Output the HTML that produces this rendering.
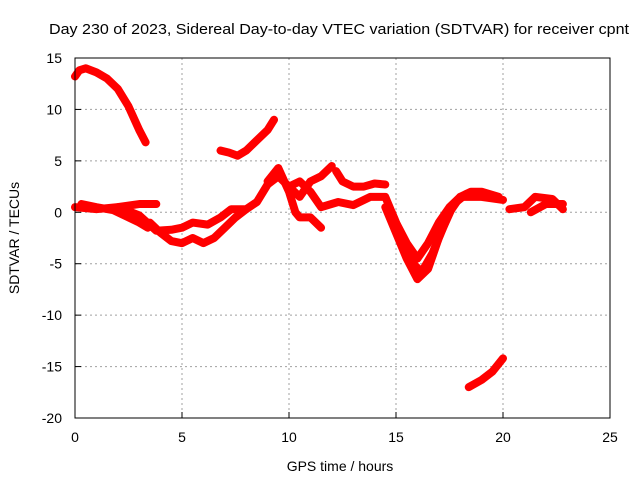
<!DOCTYPE html>
<html><head><meta charset="utf-8"><style>
body{margin:0;background:#fff}
svg{display:block;font-family:"Liberation Sans",sans-serif}
</style></head><body>
<svg id="c" width="640" height="480">
<rect x="0" y="0" width="640" height="480" fill="#fff"/>
<text x="49" y="34" font-size="15" textLength="580" lengthAdjust="spacingAndGlyphs">Day 230 of 2023, Sidereal Day-to-day VTEC variation (SDTVAR) for receiver cpnt</text>
<text x="340" y="471" font-size="14" text-anchor="middle">GPS time / hours</text>
<text transform="translate(19,238) rotate(-90)" font-size="14" text-anchor="middle">SDTVAR / TECUs</text>
<g id="grid"></g><g id="series"></g>
<rect x="75" y="58" width="535" height="360" fill="none" stroke="#000" stroke-width="1"/>
</svg>
<script>
const xTicks=[0,5,10,15,20,25];
const yTicks=[15,10,5,0,-5,-10,-15,-20];
const s1=[[0,13.2],[0.2,13.8],[0.5,14],[1,13.6],[1.5,13],[2,12],[2.5,10.3],[3,8],[3.3,6.8]];
const s2=[[6.8,6],[7.2,5.8],[7.6,5.5],[8,6],[8.5,7],[9,8],[9.3,9]];
const s3=[[18.4,-17],[19,-16.3],[19.5,-15.5],[20,-14.2]];
const s4=[[0,0.5],[1,0.3],[2,0.5],[3,0.8],[3.8,0.8]];
const s5=[[0.3,0.8],[1,0.5],[1.8,0.2],[2.5,-0.5],[3,-1],[3.4,-1.5]];
const s6=[[2,0.5],[3,-0.3],[3.8,-1.8],[4.5,-1.7],[5,-1.5],[5.5,-1],[6.2,-1.2],[6.8,-0.5],[7.3,0.3],[8,0.3],[8.5,1],[9,2.7],[9.5,3.5],[10,2.5],[10.5,1.5],[11,3],[11.5,3.5],[12,4.5]];
const s7=[[3.5,-1],[4,-2],[4.5,-2.8],[5,-3],[5.5,-2.5],[6,-3],[6.5,-2.5],[7,-1.5],[7.5,-0.5],[8,0.3]];
const s8=[[9,3],[9.5,4.3],[10,2],[10.3,0],[10.5,-0.5],[11,-0.5],[11.5,-1.5]];
const s9=[[10,2.5],[10.5,3],[11,2],[11.5,0.5],[12.3,1],[13,0.7],[13.8,1.5],[14.5,1.5],[15,-1],[15.5,-3],[16,-4.5],[16.5,-3],[17,-1],[17.5,0.5],[18,1.5],[19,1.5],[20,1.2]];
const s10=[[12.2,4],[12.5,3],[13,2.5],[13.5,2.5],[14,2.8],[14.5,2.7]];
const s11=[[14.5,0.5],[15,-2],[15.5,-4.5],[16,-6.5],[16.5,-5.5],[17,-2.5],[17.5,0],[18,1.5],[18.5,2],[19,2],[19.8,1.5]];
const s12=[[20.3,0.3],[21,0.5],[21.5,1.5],[22.3,1.3],[22.8,0.3]];
const s13=[[21.3,0],[22,0.8],[22.8,0.8]];
const s14=[[14.8,0],[15.3,-2.5],[15.8,-5],[16.2,-5.8],[16.7,-4],[17.2,-1.5],[17.7,0.8],[18.3,1.8]];
const allSeries=[s1,s2,s3,s4,s5,s6,s7,s8,s9,s10,s11,s12,s13,s14];
const X=h=>75+h*535/25, Y=v=>58+(15-v)*360/35;
const NS="http://www.w3.org/2000/svg";
const g=document.getElementById('grid'), S=document.getElementById('series');
function mk(tag,attrs,parent){const e=document.createElementNS(NS,tag);for(const k in attrs)e.setAttribute(k,attrs[k]);parent.appendChild(e);return e;}
xTicks.forEach(t=>{const x=X(t);
 if(t>0&&t<25){const l=mk('line',{x1:x,x2:x,y1:58,y2:418,stroke:'#a0a0a0','stroke-dasharray':'2,3'},g);
 
 }
 const tk=mk('line',{x1:x,x2:x,y1:418,y2:412,stroke:'#000'},g);
 
 
 const tx=mk('text',{x:x,y:442,'font-size':14,'text-anchor':'middle'},g);tx.textContent=t;
 
 });
yTicks.forEach(t=>{const y=Y(t);
 if(t>-20&&t<15){const l=mk('line',{x1:75,x2:610,y1:y,y2:y,stroke:'#a0a0a0','stroke-dasharray':'2,3'},g);
 
 }
 const tk=mk('line',{x1:75,x2:81,y1:y,y2:y,stroke:'#000'},g);
 
 
 const tx=mk('text',{x:62,y:y+5,'font-size':14,'text-anchor':'end'},g);tx.textContent=t;
 
 });
allSeries.forEach((s,i)=>{
 const p=mk('polyline',{points:s.map(d=>X(d[0])+','+Y(d[1])).join(' '),fill:'none',stroke:'#ff0000','stroke-width':8,'stroke-linejoin':'round','stroke-linecap':'round'},S);
 
 
});
</script>
</body></html>
